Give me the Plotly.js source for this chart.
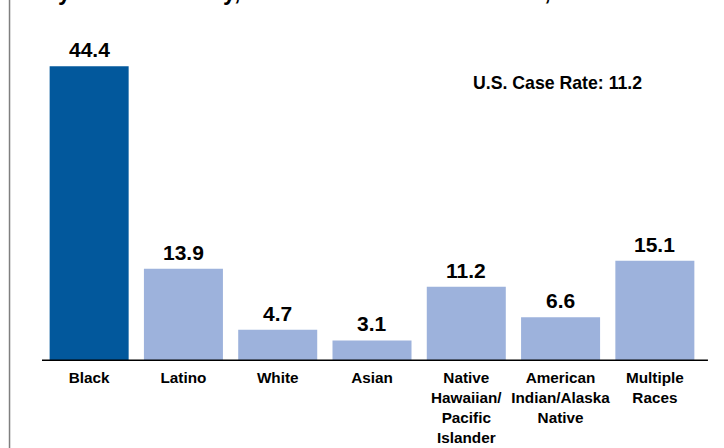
<!DOCTYPE html>
<html>
<head>
<meta charset="utf-8">
<script src="https://cdn.plot.ly/plotly-3.0.1.min.js"></script>
<style>html,body{margin:0;padding:0;background:#fff;}#chart{width:724px;height:448px;}</style>
</head>
<body>
<div id="chart"></div>
<script>
const categories = ["Black", "Latino", "White", "Asian", "Native<br>Hawaiian/<br>Pacific<br>Islander", "American<br>Indian/Alaska<br>Native", "Multiple<br>Races"];
const rates = [44.4, 13.9, 4.7, 3.1, 11.2, 6.6, 15.1];
const barColors = ["#02589C", "#9DB2DC", "#9DB2DC", "#9DB2DC", "#9DB2DC", "#9DB2DC", "#9DB2DC"];
const usRateLabel = "U.S. Case Rate: 11.2";
const titleText = "by Race/Ethnicity, for Adults and Adolescents, 2006";

const FONT = "Liberation Sans, Arial, sans-serif";

const valueAnnotations = categories.map((c, i) => ({
  x: c, y: rates[i], xref: "x", yref: "y",
  text: "<b>" + rates[i].toFixed(1) + "</b>",
  showarrow: false, yanchor: "bottom", yshift: 3,
  font: {family: FONT, size: 21, color: "#000"}
}));

const data = [{
  type: "bar",
  x: categories,
  y: rates,
  marker: {color: barColors, line: {width: 0}},
  hoverinfo: "x+y"
}];

const layout = {
  width: 724, height: 448,
  margin: {l: 42, r: 22, t: 30, b: 87},
  paper_bgcolor: "#fff", plot_bgcolor: "#fff",
  bargap: 0.162,
  showlegend: false,
  xaxis: {
    showline: false, showgrid: false, zeroline: false, ticks: "",
    tickfont: {family: FONT, size: 15.3, color: "#000", weight: "bold"},
    ticklabelstandoff: 6,
    tickangle: 0, automargin: false
  },
  yaxis: {
    range: [0, 49.85], visible: false, showgrid: false, zeroline: false, fixedrange: true
  },
  shapes: [
    {type: "line", xref: "paper", yref: "y", x0: 0, x1: 1.009, y0: 0, y1: 0,
     line: {color: "#000", width: 3}},
    {type: "line", xref: "paper", yref: "paper", x0: -0.0492, x1: -0.0492, y0: -0.5, y1: 1.5,
     line: {color: "#7f7f7f", width: 1.5}}
  ],
  annotations: valueAnnotations.concat([
    {xref: "paper", yref: "paper", x: 0.781, y: 0.84, xanchor: "center", yanchor: "middle",
     text: "<b>" + usRateLabel + "</b>", showarrow: false,
     font: {family: FONT, size: 17.7, color: "#000"}},
    {xref: "paper", yref: "paper", x: 0.0, y: 1.0695, xanchor: "left", yanchor: "bottom",
     text: "<b>" + titleText + "</b>", showarrow: false,
     font: {family: FONT, size: 23, color: "#000"}}
  ])
};

Plotly.newPlot("chart", data, layout, {displayModeBar: false, staticPlot: true});
</script>
</body>
</html>
